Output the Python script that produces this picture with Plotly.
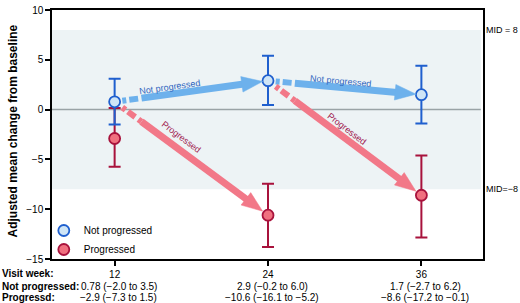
import math
import plotly.graph_objects as go

# ---- data ----
weeks = [12, 24, 36]
np_mean = [0.78, 2.9, 1.5]
np_upper = [3.1, 5.4, 4.4]
np_lower = [-1.5, 0.45, -1.4]
pr_mean = [-2.9, -10.6, -8.6]
pr_upper = [0.15, -7.45, -4.6]
pr_lower = [-5.75, -13.8, -12.85]
np_ci_text = ["0.78 (\u22122.0 to 3.5)", "2.9 (\u22120.2 to 6.0)", "1.7 (\u22122.7 to 6.2)"]
pr_ci_text = ["\u22122.9 (\u22127.3 to 1.5)", "\u221210.6 (\u221216.1 to \u22125.2)", "\u22128.6 (\u221217.2 to \u22120.1)"]
mid_values = [8, -8]
y_ticks = [10, 5, 0, -5, -10, -15]

# ---- style ----
W, H = 520, 303
ML, MR, MT, MB = 52, 37, 4, 44
XR = [7.1, 40.82]
YR = [-15, 10]
PW, PH = W - ML - MR, H - MT - MB
SX = PW / (XR[1] - XR[0])
SY = PH / (YR[1] - YR[0])
FONT = "Liberation Sans, Arial, sans-serif"
BLUE_LINE = "#1f5fce"
BLUE_FILL = "#cfe5f6"
BLUE_ARROW = "#6db1ec"
BLUE_TEXT = "#2f66bf"
RED_LINE = "#a8123c"
RED_FILL = "#f0707f"
PINK_ARROW = "#f27888"
RED_TEXT = "#a0174e"

fig = go.Figure()

# shaded band and zero line
fig.add_shape(type="rect", xref="paper", yref="y", x0=0, x1=0.995,
              y0=mid_values[1], y1=mid_values[0], fillcolor="#edf3f5",
              line_width=0, layer="below")
fig.add_shape(type="line", xref="paper", yref="y", x0=0, x1=0.995, y0=0, y1=0,
              line=dict(color="#9aa3a6", width=1.5), layer="below")

# transition arrows
HEAD_L, HEAD_HW, SHAFT_W = 21, 8, 7
transitions = [
    (0, np_mean, 1, np_mean, BLUE_ARROW, BLUE_TEXT, "Not progressed", 0.37, 7),
    (0, np_mean, 1, pr_mean, PINK_ARROW, RED_TEXT, "Progressed", 0.39, 11),
    (1, np_mean, 2, np_mean, BLUE_ARROW, BLUE_TEXT, "Not progressed", 0.47, 6.5),
    (1, np_mean, 2, pr_mean, PINK_ARROW, RED_TEXT, "Progressed", 0.48, 9),
]
for i0, s0, i1, s1, col, tcol, label, fl, off in transitions:
    x0, y0 = weeks[i0], s0[i0]
    x1, y1 = weeks[i1], s1[i1]

    def pt(f):
        return x0 + (x1 - x0) * f, y0 + (y1 - y0) * f

    dxp = (x1 - x0) * SX
    dyp = -(y1 - y0) * SY
    ln = math.hypot(dxp, dyp)
    ux, uy = dxp / ln, dyp / ln          # screen direction (y down)
    nx, ny = uy, -ux                     # screen normal pointing up

    def shift(p, px, py):
        # move a data point by screen pixels (py down positive)
        return p[0] + px / SX, p[1] - py / SY

    a = pt(0.05)
    b = pt(0.175)
    c = pt(0.965)
    base = shift(c, -ux * HEAD_L, -uy * HEAD_L)
    base_shaft = shift(c, -ux * (HEAD_L - 2), -uy * (HEAD_L - 2))
    w1 = shift(base, nx * HEAD_HW, ny * HEAD_HW)
    w2 = shift(base, -nx * HEAD_HW, -ny * HEAD_HW)
    fig.add_shape(type="line", xref="x", yref="y", x0=a[0], y0=a[1], x1=b[0], y1=b[1],
                  line=dict(color=col, width=SHAFT_W - 1, dash="4px,3px,9px,4px"))
    fig.add_shape(type="line", xref="x", yref="y", x0=b[0], y0=b[1],
                  x1=base_shaft[0], y1=base_shaft[1], line=dict(color=col, width=SHAFT_W))
    fig.add_shape(type="path", xref="x", yref="y",
                  path="M %f,%f L %f,%f L %f,%f Z" % (c[0], c[1], w1[0], w1[1], w2[0], w2[1]),
                  fillcolor=col, line=dict(color=col, width=0.5))
    ang = math.degrees(math.atan2(dyp, dxp))
    lp = pt(fl)
    fig.add_annotation(x=lp[0], y=lp[1], xref="x", yref="y", text=label,
                       showarrow=False, textangle=ang, xanchor="center", yanchor="middle",
                       xshift=nx * off, yshift=-ny * off,
                       font=dict(family=FONT, size=9, color=tcol))

# data traces
fig.add_trace(go.Scatter(
    x=weeks, y=pr_mean, mode="markers", name="Progressed",
    marker=dict(size=11, color=RED_FILL, line=dict(color=RED_LINE, width=1.8)),
    error_y=dict(type="data", symmetric=False,
                 array=[u - m for u, m in zip(pr_upper, pr_mean)],
                 arrayminus=[m - l for m, l in zip(pr_mean, pr_lower)],
                 color=RED_LINE, thickness=2, width=6),
))
fig.add_trace(go.Scatter(
    x=weeks, y=np_mean, mode="markers", name="Not progressed",
    marker=dict(size=11, color=BLUE_FILL, line=dict(color=BLUE_LINE, width=1.8)),
    error_y=dict(type="data", symmetric=False,
                 array=[u - m for u, m in zip(np_upper, np_mean)],
                 arrayminus=[m - l for m, l in zip(np_mean, np_lower)],
                 color=BLUE_LINE, thickness=2, width=6),
))

# MID labels
for mv in mid_values:
    txt = "MID = %d" % mv if mv > 0 else "MID=\u2212%d" % abs(mv)
    fig.add_annotation(x=1, y=mv, xref="paper", yref="y", xanchor="left",
                       yanchor="middle", xshift=1, text=txt, showarrow=False,
                       font=dict(family=FONT, size=9, color="black"))

# y title
fig.add_annotation(x=0, y=0.5, xref="paper", yref="paper", xanchor="center",
                   yanchor="middle", xshift=-40, yshift=3,
                   text="<b>Adjusted mean change from baseline</b>", textangle=-90,
                   showarrow=False, font=dict(family=FONT, size=12, color="black"))

# bottom table
rows = [("Visit week:", None, -14), ("Not progressed:", np_ci_text, -27), ("Progressd:", pr_ci_text, -38)]
for lab, vals, ys in rows:
    fig.add_annotation(x=-ML / PW, y=0, xref="paper", yref="paper", xanchor="left",
                       yanchor="middle", yshift=ys, text="<b>%s</b>" % lab,
                       showarrow=False, font=dict(family=FONT, size=10, color="black"))
    if vals:
        for wk, v in zip(weeks, vals):
            fig.add_annotation(x=wk, y=0, xref="x", yref="paper", xanchor="center",
                               yanchor="middle", yshift=ys, xshift=4, text=v,
                               showarrow=False,
                               font=dict(family=FONT, size=10, color="black"))

fig.update_layout(
    width=W, height=H,
    margin=dict(l=ML, r=MR, t=MT, b=MB),
    paper_bgcolor="white", plot_bgcolor="white",
    font=dict(family=FONT, size=10, color="black"),
    showlegend=True,
    legend=dict(x=-0.019, y=-0.02, xanchor="left", yanchor="bottom",
                bgcolor="rgba(0,0,0,0)", traceorder="reversed",
                font=dict(family=FONT, size=10, color="black")),
    xaxis=dict(range=XR, tickvals=weeks, ticktext=[str(w) for w in weeks],
               ticks="outside", ticklen=5, tickwidth=1.5, tickcolor="black",
               showline=True, linecolor="black", linewidth=1.5, mirror=True,
               showgrid=False, zeroline=False, fixedrange=True),
    yaxis=dict(range=YR, tickvals=y_ticks, ticks="outside", ticklen=5,
               tickwidth=1.5, tickcolor="black",
               showline=True, linecolor="black", linewidth=1.5, mirror=True,
               showgrid=False, zeroline=False, fixedrange=True),
)

fig.write_html("out.html", config={"displayModeBar": False},
               post_script="document.body.style.margin='0';document.body.style.overflow='hidden';")
